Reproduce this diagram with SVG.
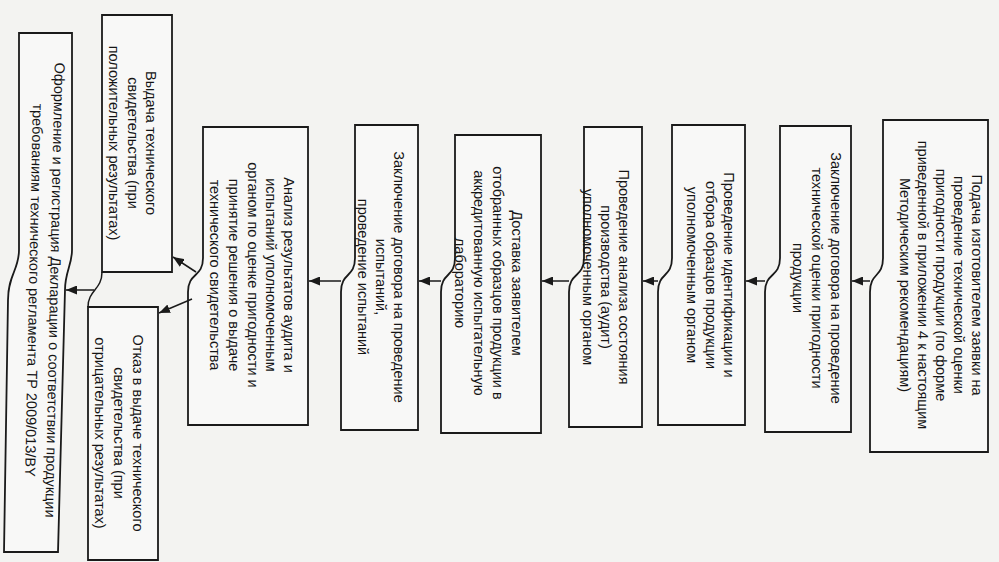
<svg xmlns="http://www.w3.org/2000/svg" width="999" height="562" viewBox="0 0 999 562">
<style>
.bg{fill:#f3f3f1}
.box{fill:#f8f8f7;stroke:#1a1a1a;stroke-width:1.8}
.t{font-family:"Liberation Sans","DejaVu Sans",Arial,sans-serif;font-size:14.5px;fill:#151515;text-anchor:middle}
.c{fill:none;stroke:#1a1a1a;stroke-width:1.5}
</style>
<defs>
<marker id="ah" markerUnits="userSpaceOnUse" markerWidth="11" markerHeight="9" refX="11" refY="4.5" orient="auto">
<path d="M0,0 L11,4.5 L0,9 Z" fill="#1a1a1a"/>
</marker>
</defs>
<rect class="bg" x="0" y="0" width="999" height="562"/>

<g id="n1">
<path class="box" d="M988,120 H883 V258 C883,278 870,272 870,292 V452 H988 Z"/>
<text class="t" transform="translate(972,285) rotate(90)">Подача изготовителем заявки  на</text>
<text class="t" transform="translate(954,285) rotate(90)">проведение технической оценки</text>
<text class="t" transform="translate(936,285) rotate(90)">пригодности продукции (по форме</text>
<text class="t" transform="translate(918,285) rotate(90)">приведенной в приложении 4 к настоящим</text>
<text class="t" transform="translate(900,285) rotate(90)">Методическим рекомендациям)</text>
</g>

<g id="n2">
<path class="box" d="M851,126 H780 V258 C780,278 765,272 765,292 V432 H851 Z"/>
<text class="t" transform="translate(831,278) rotate(90)">Заключение договора на проведение</text>
<text class="t" transform="translate(812,278) rotate(90)">технической оценки пригодности</text>
<text class="t" transform="translate(793,278) rotate(90)">продукции</text>
</g>

<g id="n3">
<path class="box" d="M745,125 H672 V258 C672,278 658,272 658,292 V425 H745 Z"/>
<text class="t" transform="translate(724,275) rotate(90)">Проведение идентификации и</text>
<text class="t" transform="translate(706,275) rotate(90)">отбора образцов продукции</text>
<text class="t" transform="translate(687,275) rotate(90)">уполномоченным органом</text>
</g>

<g id="n4">
<path class="box" d="M642,127 H584 V258 C584,278 569,272 569,292 V427 H642 Z"/>
<text class="t" transform="translate(619,277) rotate(90)">Проведение анализа состояния</text>
<text class="t" transform="translate(601,277) rotate(90)">производства (аудит)</text>
<text class="t" transform="translate(583,277) rotate(90)">уполномоченным органом</text>
</g>

<g id="n5">
<path class="box" d="M541,135 H455 V258 C455,278 441,272 441,292 V433 H541 Z"/>
<text class="t" transform="translate(512,283) rotate(90)">Доставка заявителем</text>
<text class="t" transform="translate(493,283) rotate(90)">отобранных образцов продукции в</text>
<text class="t" transform="translate(474,283) rotate(90)">аккредитованную испытательную</text>
<text class="t" transform="translate(455,283) rotate(90)">лабораторию</text>
</g>

<g id="n6">
<path class="box" d="M418,125 H355 V258 C355,278 341,272 341,292 V430 H418 Z"/>
<text class="t" transform="translate(394,277) rotate(90)">Заключение договора на проведение</text>
<text class="t" transform="translate(376,277) rotate(90)">испытаний,</text>
<text class="t" transform="translate(358,277) rotate(90)">проведение испытаний</text>
</g>

<g id="n7">
<path class="box" d="M308,127 H203 V258 C203,278 188,272 188,292 V425 H308 Z"/>
<text class="t" transform="translate(284,275) rotate(90)">Анализ результатов аудита и</text>
<text class="t" transform="translate(266,275) rotate(90)">испытаний уполномоченным</text>
<text class="t" transform="translate(248,275) rotate(90)">органом по оценке пригодности и</text>
<text class="t" transform="translate(229,275) rotate(90)">принятие решения о выдаче</text>
<text class="t" transform="translate(210,275) rotate(90)">технического свидетельства</text>
</g>

<g id="n8">
<path class="box" d="M172,15 H102 V272 H172 Z"/>
<text class="t" transform="translate(146,143) rotate(90)">Выдача технического</text>
<text class="t" transform="translate(128,143) rotate(90)">свидетельства (при</text>
<text class="t" transform="translate(109,143) rotate(90)">положительных результатах)</text>
</g>

<g id="n9">
<path class="box" d="M158,307 H88 V560 H158 Z"/>
<text class="t" transform="translate(133,433) rotate(90)">Отказ в выдаче технического</text>
<text class="t" transform="translate(114,433) rotate(90)">свидетельства (при</text>
<text class="t" transform="translate(95,433) rotate(90)">отрицательных результатах)</text>
</g>

<g id="n10">
<path class="box" d="M72,33 H19 V250 C19,270 8,275 8,300 L4,552 H58 L65,290 C65,272 72,265 72,250 Z"/>
<text class="t" transform="translate(50,290) rotate(91.2)">Оформление и регистрация Декларации о соответствии продукции</text>
<text class="t" transform="translate(29,290) rotate(91.2)">требованиям технического регламента ТР 2009/013/BY</text>
</g>

<g id="connectors">
<line class="c" x1="870" y1="281" x2="852" y2="281" marker-end="url(#ah)"/>
<line class="c" x1="765" y1="281" x2="746" y2="281" marker-end="url(#ah)"/>
<line class="c" x1="658" y1="281" x2="643" y2="281" marker-end="url(#ah)"/>
<line class="c" x1="569" y1="281" x2="542" y2="281" marker-end="url(#ah)"/>
<line class="c" x1="441" y1="281" x2="419" y2="281" marker-end="url(#ah)"/>
<line class="c" x1="341" y1="281" x2="309" y2="281" marker-end="url(#ah)"/>
<line class="c" x1="196" y1="272" x2="173" y2="257" marker-end="url(#ah)"/>
<line class="c" x1="192" y1="299" x2="159" y2="313" marker-end="url(#ah)"/>
<path class="c" d="M102,272 C102,290 88,290 88,307"/>
<line class="c" x1="94" y1="290" x2="66" y2="290" marker-end="url(#ah)"/>
</g>
</svg>
